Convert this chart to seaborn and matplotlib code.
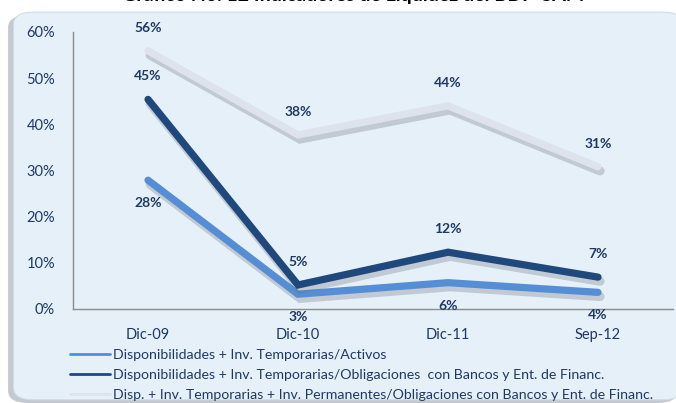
import matplotlib.patheffects as pe
import matplotlib.pyplot as plt
import pandas as pd
import seaborn as sns
from matplotlib.lines import Line2D
from matplotlib.patches import FancyBboxPatch

periods = ["Dic-09", "Dic-10", "Dic-11", "Sep-12"]
series_names = [
    "Disponibilidades + Inv. Temporarias/Activos",
    "Disponibilidades + Inv. Temporarias/Obligaciones  con Bancos y Ent. de Financ.",
    "Disp. + Inv. Temporarias + Inv. Permanentes/Obligaciones con Bancos y Ent. de Financ.",
]
activos = [0.279, 0.032, 0.057, 0.036]
oblig = [0.454, 0.052, 0.123, 0.069]
oblig_perm = [0.559, 0.377, 0.440, 0.308]
# label above (+1) or below (-1) each point
label_side = [
    [-1, -1, -1, -1],
    [1, 1, 1, 1],
    [1, 1, 1, 1],
]
colors = ["#558ED5", "#1F487C", "#DDE2EC"]
text_blue = "#1F3864"

df = pd.DataFrame({
    "periodo": periods * 3,
    "serie": [s for s in series_names for _ in periods],
    "valor": activos + oblig + oblig_perm,
})

sns.set_style("white")
plt.rcParams["font.family"] = ["Lato", "DejaVu Sans"]

fig = plt.figure(figsize=(6.76, 4.03), dpi=100)
fig.patch.set_facecolor("white")

# rounded background panel with a soft shadow
shadow = FancyBboxPatch((0.012, 0.0), 0.99, 0.962, boxstyle="round,pad=0,rounding_size=0.03",
                        transform=fig.transFigure, facecolor="#C4C9D0", edgecolor="none",
                        zorder=-3)
panel = FancyBboxPatch((0.02, 0.008), 0.99, 0.962, boxstyle="round,pad=0,rounding_size=0.03",
                       transform=fig.transFigure, facecolor="#E5F0F9", edgecolor="#D0DCE8",
                       lw=0.8, zorder=-2)
fig.patches.extend([shadow, panel])

# title sits mostly above the picture, as in the original crop
fig.text(0.522, 1.012, "Gráfico No. 12 Indicadores de Liquidez del BDP-SAM", ha="center",
         va="center", fontsize=14, fontweight="bold", color="black")

ax = fig.add_axes([0.108, 0.2333, 0.8876, 0.6873])
ax.set_facecolor("none")

sns.lineplot(data=df, x="periodo", y="valor", hue="serie", palette=colors, lw=5.2,
             legend=False, sort=False, ax=ax)

for line in ax.lines:
    line.set_solid_capstyle("round")
    line.set_solid_joinstyle("miter")
    line.set_path_effects([
        pe.SimpleLineShadow(offset=(1.5, -3), shadow_color="#6E737A", alpha=0.3,
                            linewidth=6.5),
        pe.Normal(),
    ])

for vals, sides in zip([activos, oblig, oblig_perm], label_side):
    for i, (v, s) in enumerate(zip(vals, sides)):
        ax.annotate(f"{v * 100:.0f}%", (i, v), xytext=(0, 23 * s), textcoords="offset pixels",
                    ha="center", va="center", fontsize=10, fontweight="bold",
                    color=text_blue)

ax.set_xlim(-0.5, 3.5)
ax.set_ylim(0, 0.6)
ax.set_yticks([0, 0.1, 0.2, 0.3, 0.4, 0.5, 0.6])
ax.set_yticklabels([f"{t}%" for t in range(0, 61, 10)])
ax.set_xlabel("")
ax.set_ylabel("")
ax.tick_params(axis="y", length=0, pad=13, labelsize=10.5, labelcolor=text_blue)
ax.tick_params(axis="x", length=0, pad=14, labelsize=10.5, labelcolor=text_blue)
for side in ["top", "right"]:
    ax.spines[side].set_visible(False)
for side in ["left", "bottom"]:
    ax.spines[side].set_color("#8C8C8C")
    ax.spines[side].set_linewidth(1)

handles = [Line2D([0], [0], color=c, lw=2) for c in colors]
fig.legend(handles, series_names, loc="upper left", bbox_to_anchor=(0.1036, 0.134),
           frameon=False, fontsize=10.2, labelcolor=text_blue, handlelength=2.8,
           handletextpad=0.2, labelspacing=0.55, borderpad=0, borderaxespad=0)

fig.savefig("out.png", dpi=100)
